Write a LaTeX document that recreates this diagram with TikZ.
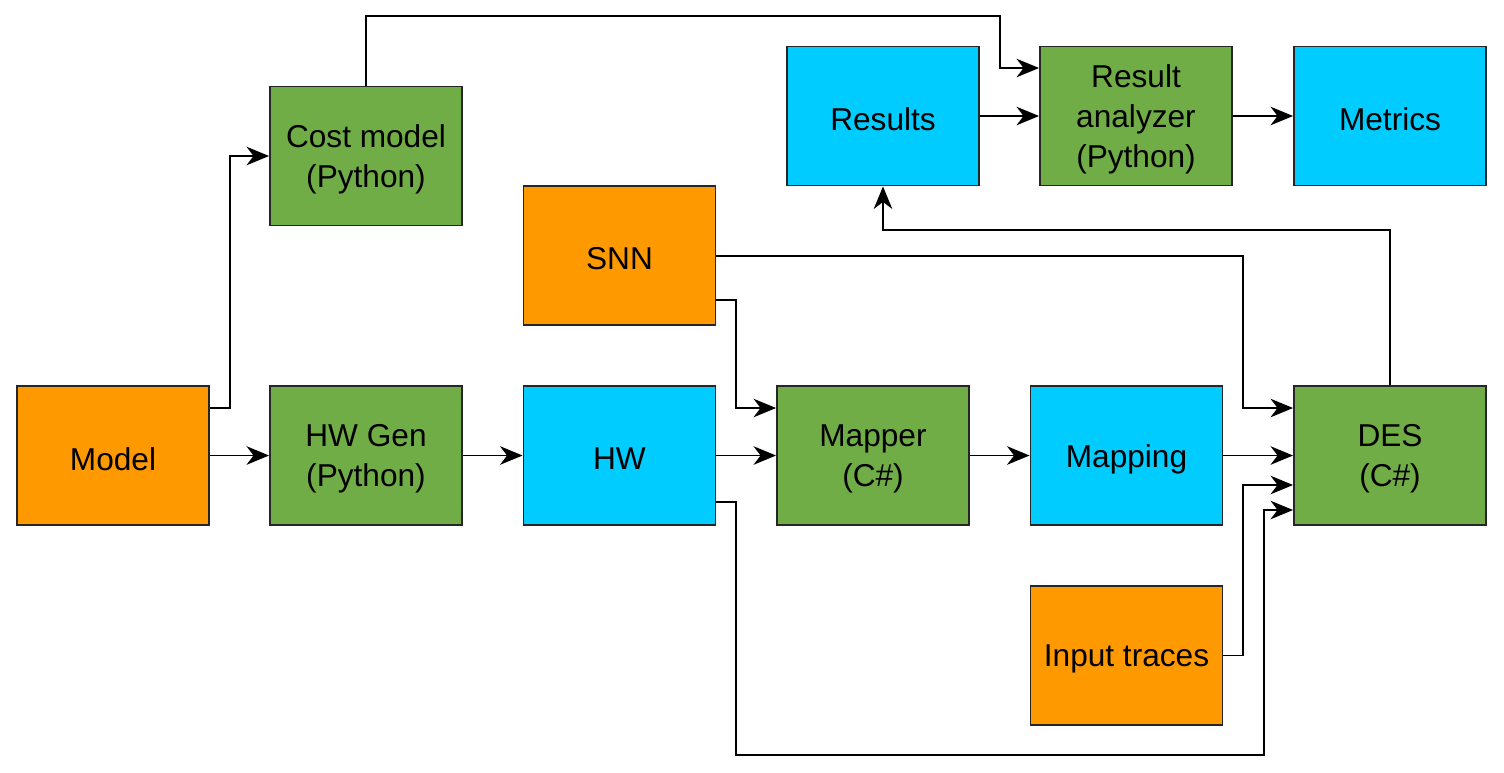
\documentclass[tikz,border=0pt]{standalone}
\usepackage{fontspec}
\setmainfont{Liberation Sans}
\usetikzlibrary{arrows.meta,calc}
\definecolor{orng}{HTML}{FF9900}
\definecolor{grn}{HTML}{70AD47}
\definecolor{cyn}{HTML}{00CCFF}
\tikzset{
  box/.style={draw=black!85, line width=1.1pt, minimum width=3.84cm, minimum height=2.78cm, inner sep=0pt},
  ob/.style={box, fill=orng},
  gb/.style={box, fill=grn},
  cb/.style={box, fill=cyn},
  lbl/.style={align=center, inner sep=0pt, font=\fontsize{18}{22.7}\selectfont},
  arr/.style={draw=black, line width=1.1pt, -{Stealth[length=0.45cm,width=0.37cm,inset=0.14cm]}},
}
\newcommand\mkbox[5]{%
  \node[#2] (#1) at (#3) {};
  \node[lbl] (#1-t) at ($(#1)+(0,3.5)$) {#5#4};
}
\begin{document}
\begin{tikzpicture}[x=0.02cm,y=-0.02cm]
\useasboundingbox (0,0) rectangle (1504,772);
\mkbox{model}{ob}{113,455.5}{Model}{}
\mkbox{hwgen}{gb}{366,455.5}{HW Gen\\(Python)}{}
\mkbox{cost}{gb}{366,156}{Cost model\\(Python)}{}
\mkbox{hw}{cb}{619.5,455.5}{HW}{}
\mkbox{snn}{ob}{619.5,255.5}{SNN}{}
\mkbox{mapper}{gb}{873,455.5}{Mapper\\(C\#)}{}
\mkbox{mapping}{cb}{1126.5,455.5}{Mapping}{}
\mkbox{input}{ob}{1126.5,655.5}{Input traces}{}
\mkbox{des}{gb}{1390,455.5}{DES\\(C\#)}{}
\mkbox{results}{cb}{883,116}{Results}{}
\mkbox{analyzer}{gb}{1136,116}{Result\\analyzer\\(Python)}{}
\mkbox{metrics}{cb}{1390,116}{Metrics}{}

\draw[arr] (model) -- (hwgen);
\draw[arr] (model.east |- 0,408) -- (230,408) |- (cost.west);
\draw[arr] (cost.north) |- (1000,16) |- (analyzer.west |- 0,68);
\draw[arr] (results.east |- 0,116) -- (analyzer.west |- 0,116);
\draw[arr] (analyzer) -- (metrics);
\draw[arr] (hwgen) -- (hw);
\draw[arr] (hw) -- (mapper);
\draw[arr] (snn.east |- 0,300) -- (736,300) |- (mapper.west |- 0,408);
\draw[arr] (snn.east |- 0,256) -- (1243,256) |- (des.west |- 0,408);
\draw[arr] (mapper) -- (mapping);
\draw[arr] (mapping) -- (des);
\draw[arr] (input.east) -- (1243,655.5) |- (des.west |- 0,485);
\draw[arr] (hw.east |- 0,502) -- (736,502) -- (736,755) -- (1264,755) |- (des.west |- 0,510);
\draw[arr] (des.north) |- (results.south |- 0,230) -- (results.south);
\end{tikzpicture}
\end{document}
